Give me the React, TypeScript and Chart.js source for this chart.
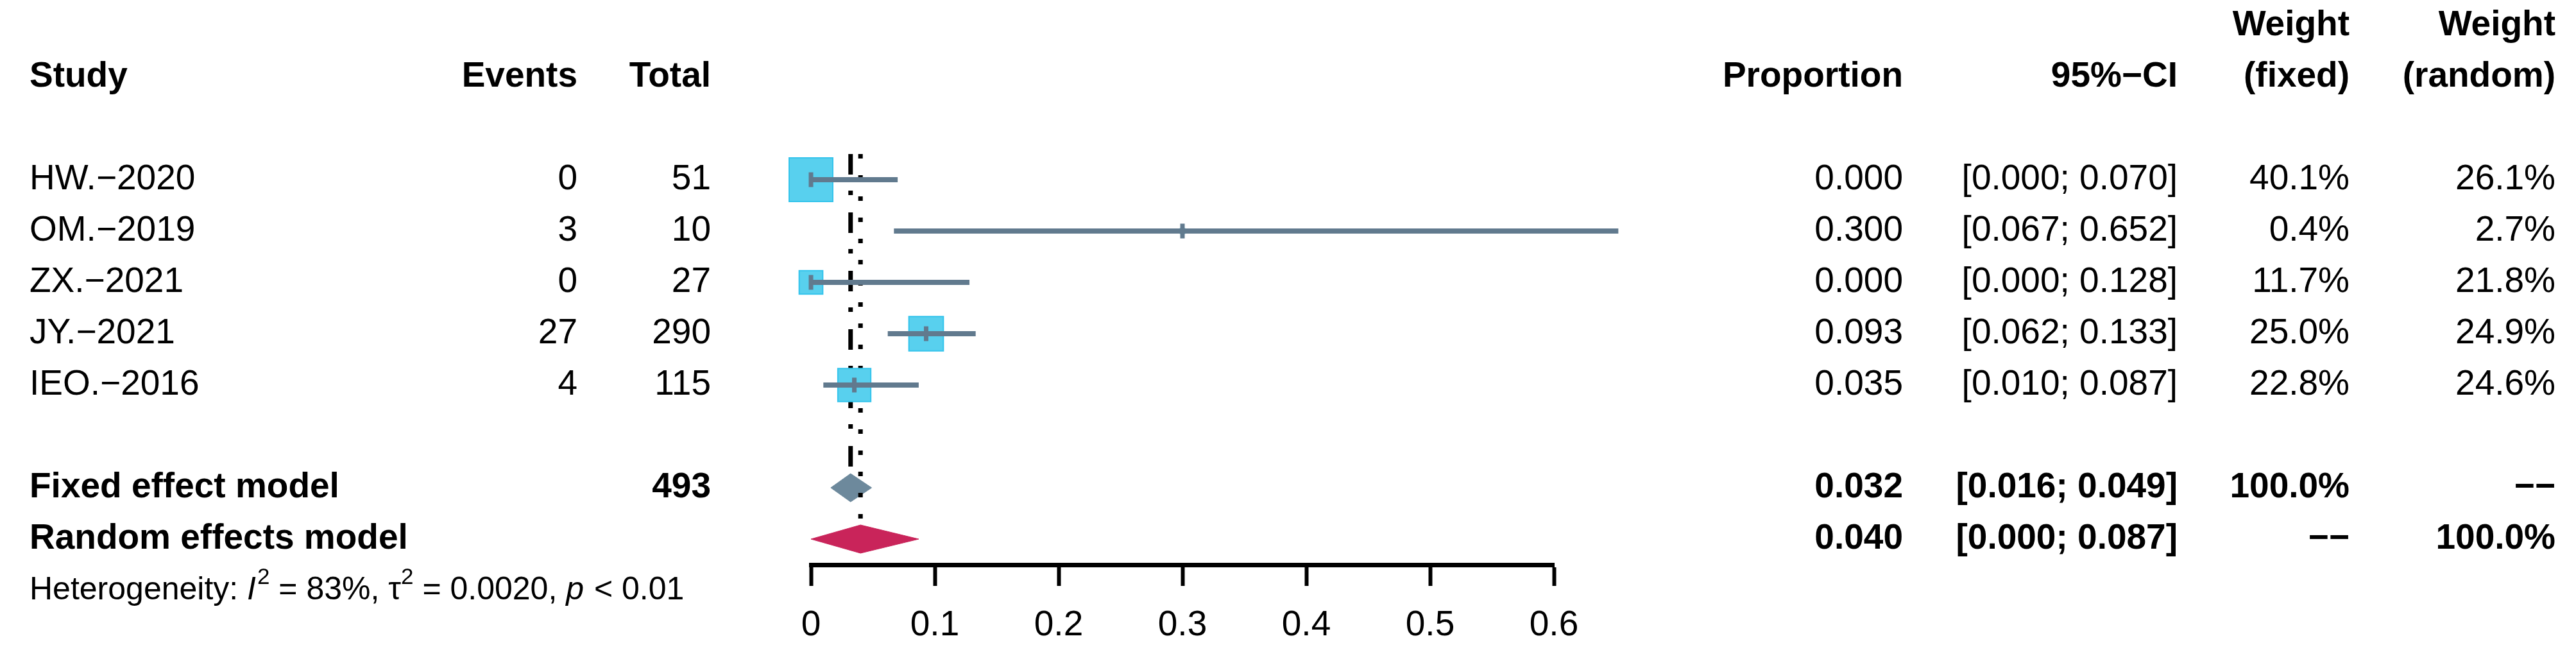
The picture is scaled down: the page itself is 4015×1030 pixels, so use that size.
import React, { useEffect, useRef } from 'react';
import { Chart, registerables } from 'chart.js';

Chart.register(...registerables);

// ---------------- data ----------------
const studyLabels = ['HW.\u22122020', 'OM.\u22122019', 'ZX.\u22122021', 'JY.\u22122021', 'IEO.\u22122016'];
const studyEvents = [0, 3, 0, 27, 4];
const studyTotals = [51, 10, 27, 290, 115];
const studyProportions = [0.0, 0.3, 0.0, 0.093, 0.035];
const studyCiLower = [0.0, 0.067, 0.0, 0.062, 0.01];
const studyCiUpper = [0.07, 0.652, 0.128, 0.133, 0.087];
const studyWeightFixed = [40.1, 0.4, 11.7, 25.0, 22.8];
const studyWeightRandom = [26.1, 2.7, 21.8, 24.9, 24.6];

const summaryLabels = ['Fixed effect model', 'Random effects model'];
const summaryTotals = ['493', ''];
const summaryEstimates = [0.032, 0.04];
const summaryCiLower = [0.016, 0.0];
const summaryCiUpper = [0.049, 0.087];
const summaryWeightFixed = ['100.0%', '\u2212\u2212'];
const summaryWeightRandom = ['\u2212\u2212', '100.0%'];

const hetI2 = '83%';
const hetTau2 = '0.0020';
const hetP = '< 0.01';

const xTickValues = [0, 0.1, 0.2, 0.3, 0.4, 0.5, 0.6];
const xTickLabels = ['0', '0.1', '0.2', '0.3', '0.4', '0.5', '0.6'];

const headerLabels = ['Study', 'Events', 'Total', 'Proportion', '95%\u2212CI', '(fixed)', '(random)'];
const headerTopLabels = ['Weight', 'Weight'];

// ---------------- layout / style ----------------
const W = 4015;
const H = 1030;
const FONT = "'Liberation Sans', Arial, Helvetica, sans-serif";
const FS = 55;
const FS_HET = 50;

const COL_STUDY = 46;
const COL_EVENTS = 900;
const COL_TOTAL = 1108;
const COL_PROP = 2966;
const COL_CI = 3394;
const COL_WF = 3662;
const COL_WR = 3983;

const ROW_WEIGHT = -1;
const ROW_HEADER = 0;
const FIRST_STUDY_ROW = 2;
const ROW_FIXED = 8;
const ROW_RANDOM = 9;
const ROW_HET = 10;

const PLOT_LEFT = 1264;
const PLOT_RIGHT = 2422;

const SQUARE_SCALE = 10.74; // px per sqrt(weight %)
const DIAMOND_HALF = 0.275; // in row units

const CI_COLOR = '#617a8e';
const SQUARE_FILL = '#58d0ee';
const SQUARE_BORDER = '#34c4ec';
const FIXED_DIAMOND = '#6d899c';
const RANDOM_DIAMOND = '#c9245a';

const studyRows = studyLabels.map((_, i) => FIRST_STUDY_ROW + i);
const summaryRows = [ROW_FIXED, ROW_RANDOM];

const fmt3 = (v: number) => v.toFixed(3);
const fmtCI = (lo: number, hi: number) => `[${fmt3(lo)}; ${fmt3(hi)}]`;

function diamondPoints(j: number) {
  const k = summaryRows[j];
  return [
    { x: summaryCiLower[j], y: k },
    { x: summaryEstimates[j], y: k - DIAMOND_HALF },
    { x: summaryCiUpper[j], y: k },
    { x: summaryEstimates[j], y: k + DIAMOND_HALF },
    { x: summaryCiLower[j], y: k },
  ];
}

export default function App() {
  const canvasRef = useRef<HTMLCanvasElement | null>(null);

  useEffect(() => {
    const canvas = canvasRef.current;
    if (!canvas) return;

    const textPlugin = {
      id: 'forestText',
      afterDraw(chart: any) {
        const ctx: CanvasRenderingContext2D = chart.ctx;
        const ys = chart.scales.y;
        const rowY = (k: number) => ys.getPixelForValue(k);
        const txt = (s: string, x: number, y: number, align: CanvasTextAlign, bold: boolean, size = FS, italic = false) => {
          ctx.font = `${italic ? 'italic ' : ''}${bold ? 'bold ' : ''}${size}px ${FONT}`;
          ctx.textAlign = align;
          ctx.fillText(s, x, y);
        };
        ctx.save();
        ctx.fillStyle = '#000';
        ctx.textBaseline = 'middle';

        // header
        const yw = rowY(ROW_WEIGHT);
        txt(headerTopLabels[0], COL_WF, yw, 'right', true);
        txt(headerTopLabels[1], COL_WR, yw, 'right', true);
        const yh = rowY(ROW_HEADER);
        const headerCols: [number, CanvasTextAlign][] = [
          [COL_STUDY, 'left'], [COL_EVENTS, 'right'], [COL_TOTAL, 'right'], [COL_PROP, 'right'],
          [COL_CI, 'right'], [COL_WF, 'right'], [COL_WR, 'right'],
        ];
        headerLabels.forEach((s, i) => txt(s, headerCols[i][0], yh, headerCols[i][1], true));

        // studies
        studyLabels.forEach((s, i) => {
          const y = rowY(studyRows[i]);
          txt(s, COL_STUDY, y, 'left', false);
          txt(String(studyEvents[i]), COL_EVENTS, y, 'right', false);
          txt(String(studyTotals[i]), COL_TOTAL, y, 'right', false);
          txt(fmt3(studyProportions[i]), COL_PROP, y, 'right', false);
          txt(fmtCI(studyCiLower[i], studyCiUpper[i]), COL_CI, y, 'right', false);
          txt(`${studyWeightFixed[i].toFixed(1)}%`, COL_WF, y, 'right', false);
          txt(`${studyWeightRandom[i].toFixed(1)}%`, COL_WR, y, 'right', false);
        });

        // summaries
        summaryLabels.forEach((s, j) => {
          const y = rowY(summaryRows[j]);
          txt(s, COL_STUDY, y, 'left', true);
          if (summaryTotals[j]) txt(summaryTotals[j], COL_TOTAL, y, 'right', true);
          txt(fmt3(summaryEstimates[j]), COL_PROP, y, 'right', true);
          txt(fmtCI(summaryCiLower[j], summaryCiUpper[j]), COL_CI, y, 'right', true);
          txt(summaryWeightFixed[j], COL_WF, y, 'right', true);
          txt(summaryWeightRandom[j], COL_WR, y, 'right', true);
        });

        // heterogeneity
        const yhet = rowY(ROW_HET);
        const pieces: { t: string; it?: boolean; sup?: boolean }[] = [
          { t: 'Heterogeneity: ' },
          { t: 'I', it: true },
          { t: '2', sup: true },
          { t: ` = ${hetI2}, ` },
          { t: '\u03c4' },
          { t: '2', sup: true },
          { t: ` = ${hetTau2}, ` },
          { t: 'p', it: true },
          { t: ` ${hetP}` },
        ];
        let x = COL_STUDY;
        ctx.textAlign = 'left';
        for (const p of pieces) {
          const size = p.sup ? Math.round(FS_HET * 0.7) : FS_HET;
          ctx.font = `${p.it ? 'italic ' : ''}${size}px ${FONT}`;
          const y = p.sup ? yhet - FS_HET * 0.4 : yhet;
          ctx.fillText(p.t, x, y);
          x += ctx.measureText(p.t).width + (p.it ? 2 : 0);
        }
        ctx.restore();
      },
    };

    const datasets: any[] = [];

    // fixed-effect reference line (dash-dot)
    datasets.push({
      type: 'line',
      data: [
        { x: summaryEstimates[0], y: FIRST_STUDY_ROW - 0.5 },
        { x: summaryEstimates[0], y: ROW_FIXED },
      ],
      borderColor: '#000',
      borderWidth: 7,
      borderDash: [32, 25, 7, 27],
      pointRadius: 0,
      fill: false,
      order: 7,
    });
    // fixed diamond
    datasets.push({
      type: 'line',
      data: diamondPoints(0),
      borderColor: FIXED_DIAMOND,
      backgroundColor: FIXED_DIAMOND,
      borderWidth: 1,
      pointRadius: 0,
      fill: 'shape',
      order: 6,
    });
    // random-effects reference line (dotted)
    datasets.push({
      type: 'line',
      data: [
        { x: summaryEstimates[1], y: FIRST_STUDY_ROW - 0.5 },
        { x: summaryEstimates[1], y: ROW_RANDOM - 0.4 },
      ],
      borderColor: '#000',
      borderWidth: 7,
      borderDash: [7, 26],
      pointRadius: 0,
      fill: false,
      order: 5,
    });
    // squares (size ~ sqrt of fixed weight)
    datasets.push({
      type: 'scatter',
      data: studyProportions.map((p, i) => ({ x: p, y: studyRows[i] })),
      pointStyle: 'rect',
      pointRadius: studyWeightFixed.map((w) => (SQUARE_SCALE * Math.sqrt(w)) / Math.SQRT2),
      backgroundColor: SQUARE_FILL,
      borderColor: SQUARE_BORDER,
      borderWidth: 2,
      clip: false,
      order: 4,
    });
    // CI lines
    studyLabels.forEach((_, i) => {
      datasets.push({
        type: 'line',
        data: [
          { x: studyCiLower[i], y: studyRows[i] },
          { x: studyCiUpper[i], y: studyRows[i] },
        ],
        borderColor: CI_COLOR,
        borderWidth: 8,
        pointRadius: 0,
        fill: false,
        clip: false,
        order: 3,
      });
    });
    // estimate tick marks
    datasets.push({
      type: 'scatter',
      data: studyProportions.map((p, i) => ({ x: p, y: studyRows[i] })),
      pointStyle: 'line',
      pointRotation: 90,
      pointRadius: 11.5,
      borderColor: CI_COLOR,
      borderWidth: 7,
      clip: false,
      order: 2,
    });
    // random diamond
    datasets.push({
      type: 'line',
      data: diamondPoints(1),
      borderColor: RANDOM_DIAMOND,
      backgroundColor: RANDOM_DIAMOND,
      borderWidth: 1,
      pointRadius: 0,
      fill: 'shape',
      clip: false,
      order: 1,
    });

    const chart = new Chart(canvas, {
      type: 'scatter',
      data: { datasets },
      options: {
        responsive: false,
        maintainAspectRatio: false,
        animation: false,
        devicePixelRatio: 1,
        events: [],
        layout: {
          autoPadding: false,
          padding: { left: PLOT_LEFT, right: W - PLOT_RIGHT, top: 0, bottom: 0 },
        },
        plugins: {
          legend: { display: false },
          tooltip: { enabled: false },
          title: { display: false },
        },
        scales: {
          x: {
            type: 'linear',
            position: 'bottom',
            min: xTickValues[0],
            max: xTickValues[xTickValues.length - 1],
            afterBuildTicks: (s: any) => {
              s.ticks = xTickValues.map((v) => ({ value: v }));
            },
            afterFit: (s: any) => {
              s.height = 150;
            },
            ticks: {
              callback: (_v: any, i: number) => xTickLabels[i],
              font: { family: FONT, size: FS },
              color: '#000',
              padding: 29,
              maxRotation: 0,
              autoSkip: false,
            },
            grid: {
              display: true,
              drawOnChartArea: false,
              drawTicks: true,
              tickLength: 33,
              tickWidth: 6,
              tickColor: '#000',
              color: '#000',
            },
            border: { display: true, color: '#000', width: 7 },
          },
          y: {
            type: 'linear',
            min: -1.5,
            max: 9.5,
            reverse: true,
            display: false,
          },
        },
      } as any,
      plugins: [textPlugin],
    });

    return () => chart.destroy();
  }, []);

  return (
    <div style={{ position: 'absolute', left: 0, top: 0, width: W, height: H, overflow: 'hidden', background: '#fff' }}>
      <canvas ref={canvasRef} width={W} height={H} style={{ display: 'block', width: W, height: H }} />
    </div>
  );
}
